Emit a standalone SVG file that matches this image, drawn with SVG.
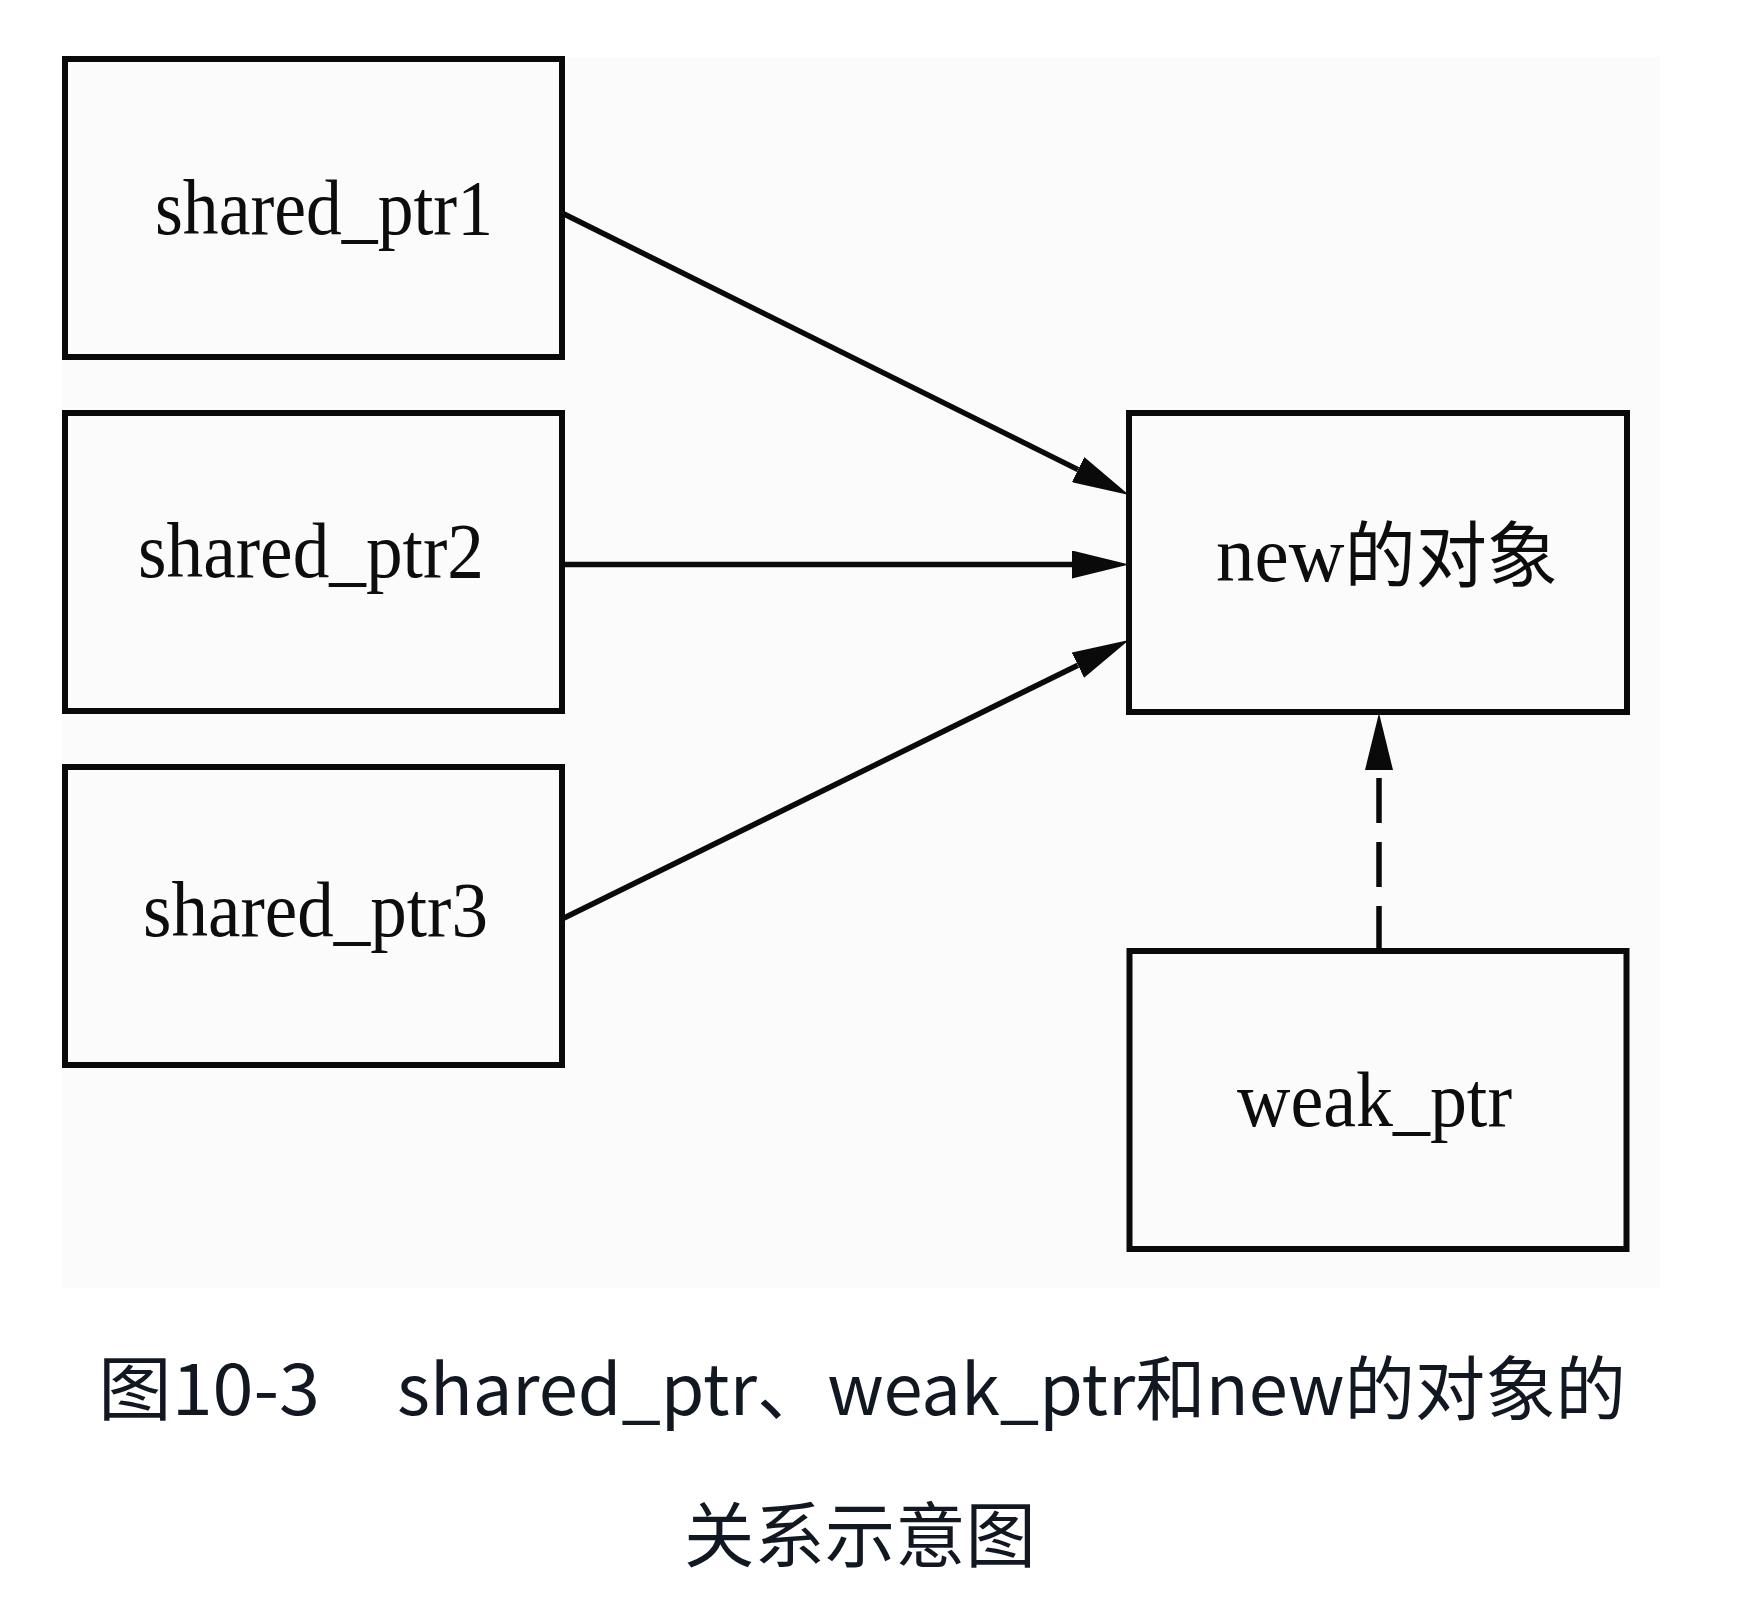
<svg xmlns="http://www.w3.org/2000/svg" width="1750" height="1614" viewBox="0 0 1750 1614">
<style>
.box{fill:none;stroke:#0a0a0a;stroke-width:6}
.lbl{font-family:"Liberation Serif","Noto Sans CJK SC",serif;font-size:78px;fill:#0d0d0d}
.conn{stroke:#0a0a0a;stroke-width:5.5;fill:none}
.cap{font-family:"Noto Sans CJK SC","Noto Sans",sans-serif;font-size:70px;fill:#121822}
</style>
<defs>
<marker id="ah" markerUnits="userSpaceOnUse" viewBox="0 -14 57 28" markerWidth="57" markerHeight="28" refX="0" refY="0" orient="auto">
<path d="M0,-14 L57,0 L0,14 z" fill="#0a0a0a"/>
</marker>
</defs>
<rect x="0" y="0" width="1750" height="1614" fill="#ffffff"/>
<rect x="62" y="57" width="1598" height="1231" fill="#fbfbfb"/>
<g id="connectors">
<path class="conn" d="M564,214 L1078,469.6" marker-end="url(#ah)"/>
<path class="conn" d="M564,564.5 L1072,564.5" marker-end="url(#ah)"/>
<path class="conn" d="M564,918 L1077.9,665.2" marker-end="url(#ah)"/>
<path class="conn" d="M1379,951 L1379,770" stroke-dasharray="45 19" marker-end="url(#ah)"/>
</g>
<g id="shared_ptr1">
<rect class="box" x="65" y="59" width="497" height="298"/>
<text class="lbl" x="155" y="234" textLength="338" lengthAdjust="spacingAndGlyphs">shared_ptr1</text>
</g>
<g id="shared_ptr2">
<rect class="box" x="65" y="413" width="497" height="298"/>
<text class="lbl" x="138" y="577" textLength="346" lengthAdjust="spacingAndGlyphs">shared_ptr2</text>
</g>
<g id="shared_ptr3">
<rect class="box" x="65" y="767" width="497" height="298"/>
<text class="lbl" x="143" y="936" textLength="345" lengthAdjust="spacingAndGlyphs">shared_ptr3</text>
</g>
<g id="new_object">
<rect class="box" x="1129" y="413" width="498" height="299"/>
<text class="lbl" x="1216" y="581" textLength="342" lengthAdjust="spacingAndGlyphs">new<tspan style="font-size:72px">的对象</tspan></text>
</g>
<g id="weak_ptr">
<rect class="box" x="1129.5" y="951" width="497" height="298"/>
<text class="lbl" x="1237" y="1126" textLength="275" lengthAdjust="spacingAndGlyphs">weak_ptr</text>
</g>
<g id="caption">
<text class="cap" x="98" y="1415" textLength="222" lengthAdjust="spacingAndGlyphs">图10-3</text>
<text class="cap" x="397" y="1415" textLength="1229" lengthAdjust="spacingAndGlyphs">shared_ptr、weak_ptr和new的对象的</text>
<text class="cap" x="684" y="1561" style="font-size:71px" textLength="352" lengthAdjust="spacingAndGlyphs">关系示意图</text>
</g>
</svg>
